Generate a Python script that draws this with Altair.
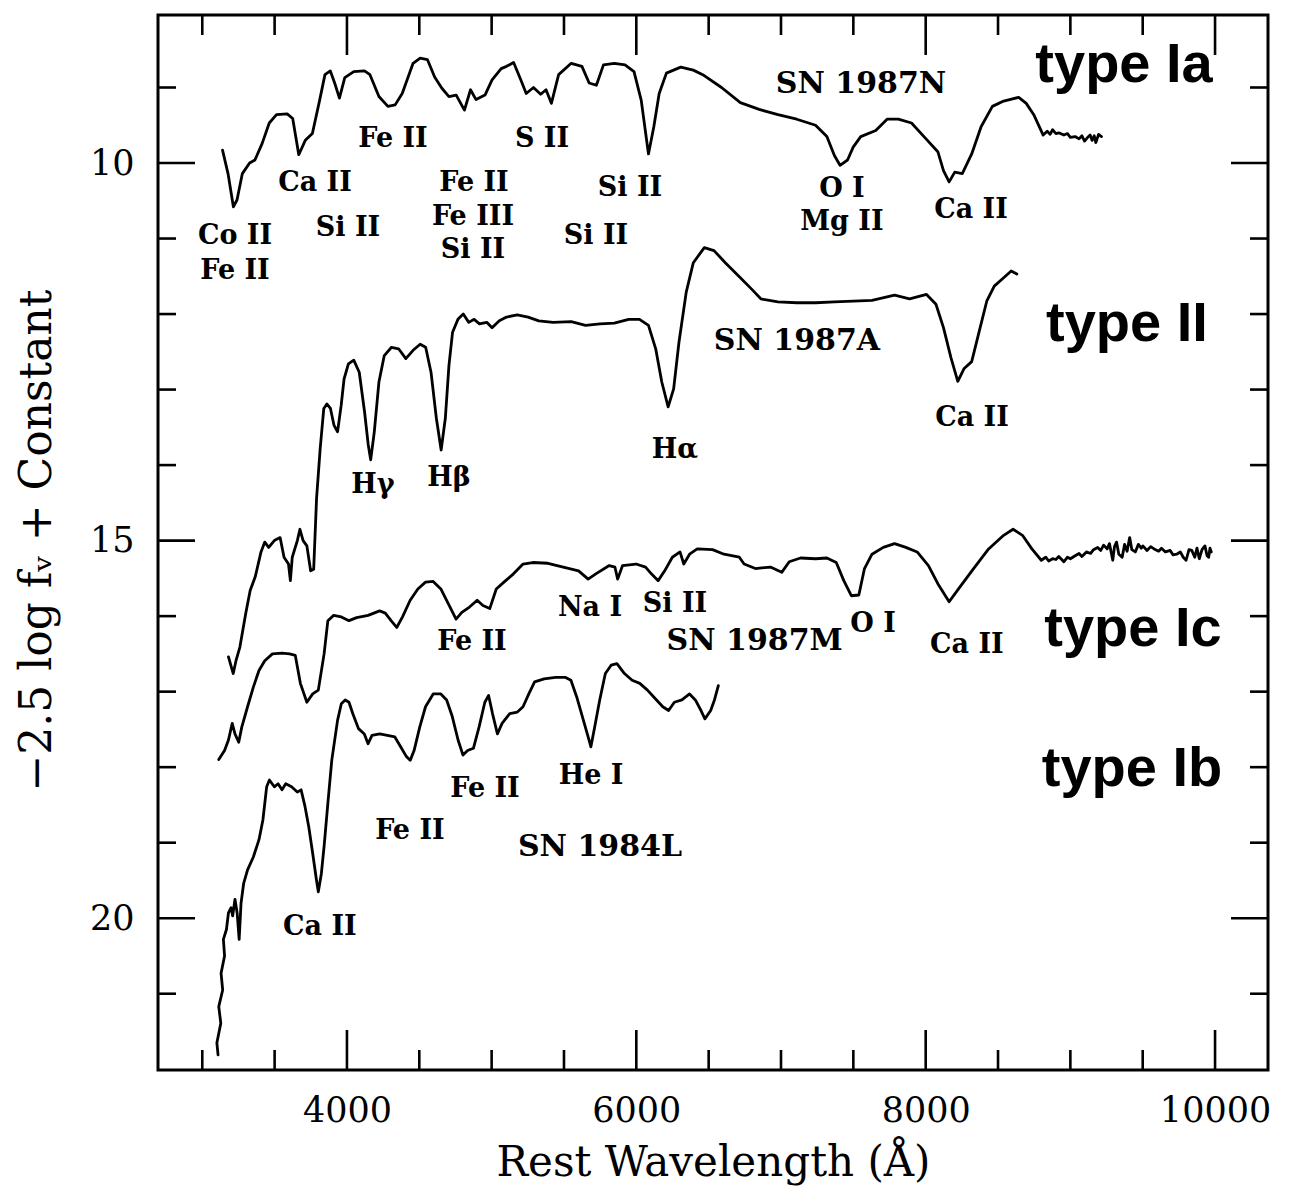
import altair as alt
import pandas as pd

# ---------------- data ----------------
# SN 1987N (type Ia)
sn1987n_wave = [3140, 3178, 3215, 3240, 3277, 3327, 3364, 3414, 3463, 3513,
                3587, 3625, 3667, 3712, 3761, 3811, 3848, 3885, 3915, 3948,
                3985, 4047, 4121, 4159, 4221, 4283, 4333, 4382, 4457, 4506,
                4556, 4606, 4656, 4705, 4755, 4812, 4854, 4892, 4954, 5003,
                5066, 5103, 5152, 5202, 5239, 5289, 5339, 5376, 5413, 5463,
                5550, 5624, 5674, 5724, 5773, 5848, 5922, 5984, 6034, 6084,
                6121, 6158, 6208, 6307, 6394, 6459, 6589, 6719, 6849, 6979,
                7109, 7239, 7317, 7369, 7408, 7460, 7499, 7551, 7655, 7733,
                7811, 7902, 7993, 8084, 8123, 8162, 8201, 8253, 8318, 8383,
                8461, 8539, 8643, 8695, 8747,
                8812, 8840, 8860, 8877, 8900, 8920, 8955, 8980, 9000, 9033,
                9060, 9080, 9098, 9120, 9137, 9150, 9165, 9176, 9195, 9215]
sn1987n_mag = [9.83, 10.14, 10.58, 10.49, 10.14, 10.00, 9.96, 9.74, 9.47, 9.36,
               9.35, 9.41, 9.89, 9.70, 9.61, 9.17, 8.83, 8.78, 8.94, 9.14,
               8.87, 8.79, 8.78, 8.83, 9.12, 9.25, 9.23, 9.08, 8.68, 8.61,
               8.63, 8.86, 9.01, 9.12, 9.10, 9.30, 9.03, 9.16, 9.10, 8.90,
               8.75, 8.72, 8.67, 8.90, 9.08, 9.00, 9.09, 9.03, 9.21, 8.83,
               8.68, 8.72, 8.94, 8.97, 8.70, 8.68, 8.70, 8.79, 9.17, 9.88,
               9.52, 9.08, 8.81, 8.73, 8.77, 8.83, 9.00, 9.20, 9.29, 9.36,
               9.42, 9.50, 9.65, 9.90, 10.03, 9.96, 9.79, 9.65, 9.57, 9.42,
               9.42, 9.47, 9.66, 9.85, 10.10, 10.25, 10.12, 10.14, 9.88, 9.52,
               9.25, 9.18, 9.13, 9.21, 9.36,
               9.63, 9.58, 9.62, 9.56, 9.61, 9.60, 9.63, 9.61, 9.66, 9.65,
               9.68, 9.64, 9.71, 9.66, 9.63, 9.70, 9.64, 9.73, 9.62, 9.65]

# SN 1987A (type II)
sn1987a_wave = [3181, 3214, 3233, 3260, 3300, 3331, 3366, 3406, 3432, 3459,
                3498, 3538, 3565, 3596, 3609, 3622, 3657, 3675, 3697, 3723,
                3749, 3770, 3790, 3815, 3840, 3861, 3886, 3910, 3935, 3960,
                3980, 4010, 4047, 4085, 4122, 4147, 4164, 4189, 4221, 4258,
                4308, 4357, 4407, 4457, 4506, 4544, 4581, 4618, 4651, 4680,
                4705, 4730, 4767, 4804, 4842, 4879, 4916, 4966, 5003, 5053,
                5103, 5177, 5252, 5326, 5425, 5550, 5649, 5749, 5848, 5947,
                6022, 6084, 6134, 6176, 6220, 6258, 6295, 6345, 6394, 6470,
                6537, 6615, 6719, 6797, 6862, 6979, 7109, 7239, 7369, 7499,
                7629, 7785, 7889, 8006, 8071, 8123, 8175, 8222, 8266, 8318,
                8370, 8422, 8474, 8539, 8591, 8630]
sn1987a_mag = [16.54, 16.76, 16.59, 16.41, 15.97, 15.66, 15.48, 15.15, 15.02, 15.09,
               15.00, 14.96, 15.22, 15.31, 15.53, 15.22, 15.00, 14.85, 15.00, 15.07,
               15.40, 15.38, 14.44, 13.78, 13.25, 13.19, 13.25, 13.47, 13.56, 13.21,
               12.86, 12.66, 12.61, 12.77, 13.30, 13.73, 13.93, 13.56, 12.90, 12.55,
               12.44, 12.46, 12.59, 12.48, 12.40, 12.44, 12.77, 13.38, 13.80, 13.38,
               12.68, 12.24, 12.07, 12.00, 12.11, 12.07, 12.13, 12.11, 12.18, 12.09,
               12.04, 12.01, 12.04, 12.09, 12.11, 12.10, 12.15, 12.13, 12.12, 12.07,
               12.07, 12.15, 12.46, 12.90, 13.23, 12.99, 12.37, 11.71, 11.32, 11.12,
               11.16, 11.32, 11.52, 11.67, 11.80, 11.84, 11.85, 11.85, 11.84, 11.83,
               11.82, 11.75, 11.80, 11.74, 11.87, 12.18, 12.58, 12.89, 12.72, 12.63,
               12.23, 11.83, 11.63, 11.52, 11.43, 11.47]

# SN 1987M (type Ic)
sn1987m_wave = [3114, 3154, 3181, 3207, 3226, 3252, 3273, 3313, 3353, 3392,
                3432, 3485, 3551, 3604, 3643, 3678, 3723, 3763, 3802, 3842,
                3868, 3908, 3961, 4014, 4067, 4146, 4226, 4265, 4305, 4344,
                4384, 4437, 4490, 4543, 4596, 4649, 4702, 4754, 4794, 4847,
                4900, 4940, 4987, 5032, 5085, 5151, 5217, 5284, 5389, 5495,
                5601, 5667, 5720, 5813, 5852, 5871, 5905, 5998, 6064, 6104,
                6151, 6196, 6249, 6302, 6328, 6368, 6421, 6527, 6606, 6712,
                6745, 6823, 6927, 7005, 7057, 7135, 7239, 7317, 7382, 7434,
                7486, 7538, 7577, 7629, 7707, 7785, 7863, 7941, 8019, 8084,
                8162, 8227, 8331, 8435, 8539, 8604, 8669, 8734,
                8799, 8830, 8850, 8877, 8900, 8920, 8955, 8980, 9000, 9033,
                9060, 9080, 9111, 9140, 9160, 9189, 9210, 9230, 9254, 9270,
                9293, 9305, 9319, 9335, 9358, 9375, 9392, 9410, 9425, 9449,
                9470, 9490, 9501, 9530, 9555, 9579, 9610, 9630, 9657, 9690,
                9710, 9735, 9760, 9780, 9800, 9820, 9839, 9860, 9875, 9891,
                9910, 9930, 9945, 9956, 9965, 9974]
sn1987m_mag = [17.90, 17.78, 17.64, 17.42, 17.56, 17.67, 17.47, 17.20, 16.94, 16.72,
               16.59, 16.50, 16.49, 16.50, 16.52, 16.89, 17.14, 17.03, 16.98, 16.50,
               16.06, 15.99, 16.01, 16.06, 16.02, 15.99, 15.93, 15.96, 16.06, 16.15,
               16.01, 15.79, 15.64, 15.55, 15.54, 15.64, 15.84, 16.04, 15.95, 15.88,
               15.79, 15.86, 15.90, 15.64, 15.55, 15.44, 15.31, 15.29, 15.30, 15.35,
               15.40, 15.51, 15.44, 15.33, 15.35, 15.51, 15.33, 15.31, 15.35, 15.44,
               15.53, 15.40, 15.22, 15.15, 15.31, 15.18, 15.11, 15.12, 15.18, 15.22,
               15.31, 15.37, 15.35, 15.42, 15.28, 15.23, 15.24, 15.23, 15.29, 15.53,
               15.73, 15.72, 15.37, 15.18, 15.09, 15.04, 15.09, 15.15, 15.33, 15.57,
               15.81, 15.64, 15.37, 15.11, 14.93, 14.85, 14.93, 15.11,
               15.26, 15.22, 15.27, 15.24, 15.25, 15.21, 15.28, 15.22, 15.24, 15.20,
               15.17, 15.21, 15.15, 15.17, 15.12, 15.09, 15.13, 15.06, 15.11, 15.04,
               15.26, 15.08, 15.02, 15.18, 15.22, 15.05, 15.14, 14.96, 15.12, 15.15,
               15.05, 15.10, 15.07, 15.13, 15.08, 15.11, 15.14, 15.10, 15.15, 15.13,
               15.19, 15.18, 15.15, 15.22, 15.26, 15.12, 15.13, 15.22, 15.10, 15.24,
               15.12, 15.07, 15.20, 15.22, 15.10, 15.15]

# SN 1984L (type Ib)
sn1984l_wave = [3109, 3101, 3128, 3114, 3141, 3130, 3154, 3146, 3167, 3181,
                3199, 3210, 3226, 3241, 3255, 3268, 3286, 3313, 3353, 3392,
                3419, 3445, 3464, 3498, 3524, 3551, 3577, 3617, 3657, 3683,
                3710, 3736, 3763, 3789, 3802, 3823, 3842, 3868, 3895, 3935,
                3961, 3988, 4014, 4040, 4080, 4120, 4146, 4173, 4226, 4279,
                4331, 4371, 4411, 4437, 4464, 4503, 4543, 4596, 4649, 4689,
                4728, 4768, 4802, 4834, 4874, 4913, 4953, 4979, 5006, 5040,
                5072, 5125, 5178, 5217, 5257, 5297, 5363, 5442, 5508, 5548,
                5588, 5627, 5667, 5686, 5712, 5747, 5786, 5826, 5866, 5918,
                5971, 6024, 6077, 6130, 6183, 6223, 6263, 6315, 6368, 6408,
                6447, 6474, 6514, 6540, 6567]
sn1984l_mag = [21.81, 21.65, 21.39, 21.17, 20.95, 20.73, 20.50, 20.28, 20.15, 19.93,
               19.86, 19.97, 19.75, 19.93, 20.28, 19.80, 19.54, 19.36, 19.19, 18.96,
               18.70, 18.26, 18.17, 18.26, 18.22, 18.30, 18.22, 18.26, 18.33, 18.30,
               18.52, 18.79, 19.14, 19.49, 19.65, 19.41, 19.05, 18.48, 17.91, 17.38,
               17.16, 17.11, 17.14, 17.29, 17.49, 17.56, 17.69, 17.58, 17.56, 17.58,
               17.60, 17.73, 17.86, 17.91, 17.78, 17.47, 17.20, 17.03, 17.03, 17.11,
               17.33, 17.64, 17.84, 17.78, 17.75, 17.47, 17.14, 17.05, 17.29, 17.56,
               17.42, 17.29, 17.27, 17.20, 17.03, 16.87, 16.83, 16.81, 16.81, 16.85,
               17.07, 17.33, 17.60, 17.73, 17.47, 17.11, 16.76, 16.65, 16.63, 16.76,
               16.85, 16.89, 16.98, 17.09, 17.20, 17.25, 17.14, 17.11, 17.03, 17.11,
               17.25, 17.36, 17.25, 17.11, 16.92]

# line identifications
line_label_text = ["Co II", "Fe II", "Ca II", "Si II", "Fe II", "Fe II", "Fe III",
                   "Si II", "S II", "Si II", "Si II", "O I", "Mg II", "Ca II",
                   "H\u03b3", "H\u03b2", "H\u03b1", "Ca II",
                   "Fe II", "Na I", "Si II", "O I", "Ca II",
                   "Fe II", "He I", "Fe II", "Ca II"]
line_label_wave = [3226, 3226, 3779, 4007, 4318, 4878, 4871,
                   4871, 5348, 5956, 5721, 7421, 7421, 8313,
                   4180, 4705, 6267, 8320,
                   4864, 5680, 6267, 7636, 8285,
                   4954, 5687, 4435, 3813]
line_label_mag = [10.97, 11.43, 10.26, 10.86, 9.68, 10.26, 10.72,
                  11.15, 9.68, 10.33, 10.97, 10.34, 10.78, 10.62,
                  14.26, 14.17, 13.80, 13.38,
                  16.34, 15.89, 15.84, 16.11, 16.38,
                  18.29, 18.12, 18.85, 20.12]

# supernova names
sn_label_text = ["SN 1987N", "SN 1987A", "SN 1987M", "SN 1984L"]
sn_label_wave = [7553, 7110, 6818, 5749]
sn_label_mag = [8.95, 12.36, 16.33, 19.06]

# spectral types
type_label_text = ["type Ia", "type II", "type Ic", "type Ib"]
type_label_wave = [9371, 9391, 9433, 9426]
type_label_mag = [8.70, 12.13, 16.17, 18.02]

# tick values
x_major_ticks = [4000, 6000, 8000, 10000]
x_minor_ticks = [3000, 3500, 4500, 5000, 5500, 6500, 7000, 7500, 8500, 9000, 9500]
y_major_ticks = [10, 15, 20]
y_minor_ticks = [9, 11, 12, 13, 14, 16, 17, 18, 19, 21]

# ---------------- build tables ----------------
spectra = [("SN 1987N", sn1987n_wave, sn1987n_mag),
           ("SN 1987A", sn1987a_wave, sn1987a_mag),
           ("SN 1987M", sn1987m_wave, sn1987m_mag),
           ("SN 1984L", sn1984l_wave, sn1984l_mag)]
rows = []
for name, wv, mg in spectra:
    for i, (w, m) in enumerate(zip(wv, mg)):
        rows.append({"spectrum": name, "idx": i, "wave": w, "mag": m})
spec_df = pd.DataFrame(rows)

line_df = pd.DataFrame({"wave": line_label_wave, "mag": line_label_mag, "label": line_label_text})
sn_df = pd.DataFrame({"wave": sn_label_wave, "mag": sn_label_mag, "label": sn_label_text})
type_df = pd.DataFrame({"wave": type_label_wave, "mag": type_label_mag, "label": type_label_text})
xmaj_df = pd.DataFrame({"wave": x_major_ticks})
xmin_df = pd.DataFrame({"wave": x_minor_ticks})
ymaj_df = pd.DataFrame({"mag": y_major_ticks})
ymin_df = pd.DataFrame({"mag": y_minor_ticks})

# ---------------- chart ----------------
W, H = 1110, 1055
SERIF = "DejaVu Serif"

xs = alt.Scale(domain=[2694, 10366], nice=False, zero=False)
ys = alt.Scale(domain=[8.04, 22.01], reverse=True, nice=False, zero=False)

x_axis = alt.Axis(values=x_major_ticks, format="d", ticks=False, tickSize=0,
                  domain=False, grid=False, labelFont=SERIF, labelFontSize=35,
                  labelColor="black", labelPadding=23, labelFlush=False,
                  labelOverlap=False, titleFont=SERIF, titleFontSize=42,
                  titleFontWeight="normal", titleColor="black", titlePadding=14)
y_axis = alt.Axis(values=y_major_ticks, ticks=False, tickSize=0, domain=False,
                  grid=False, labelFont=SERIF, labelFontSize=35, labelColor="black",
                  labelPadding=24, labelOverlap=False, titleFont=SERIF,
                  titleFontSize=44, titleFontWeight="normal", titleColor="black",
                  titleAngle=270, titleX=-121, titleY=525, titleAlign="center",
                  titleBaseline="middle")

X_TITLE = "Rest Wavelength (\u00c5)"
Y_TITLE = "\u22122.5 log f\u1d65 + Constant"


def xenc():
    return alt.X("wave:Q", scale=xs, axis=x_axis, title=X_TITLE)


def yenc():
    return alt.Y("mag:Q", scale=ys, axis=y_axis, title=Y_TITLE)


lines = alt.Chart(spec_df).mark_line(
    color="black", strokeWidth=2.8, strokeJoin="round", strokeCap="round"
).encode(x=xenc(), y=yenc(), detail="spectrum:N", order="idx:Q")

rule_style = dict(color="black", strokeWidth=2.6)
xmaj_bot = alt.Chart(xmaj_df).mark_rule(**rule_style).encode(
    x=xenc(), y=alt.value(H), y2=alt.value(H - 40))
xmaj_top = alt.Chart(xmaj_df).mark_rule(**rule_style).encode(
    x=xenc(), y=alt.value(0), y2=alt.value(40))
xmin_bot = alt.Chart(xmin_df).mark_rule(**rule_style).encode(
    x=xenc(), y=alt.value(H), y2=alt.value(H - 20))
xmin_top = alt.Chart(xmin_df).mark_rule(**rule_style).encode(
    x=xenc(), y=alt.value(0), y2=alt.value(20))
ymaj_left = alt.Chart(ymaj_df).mark_rule(**rule_style).encode(
    y=yenc(), x=alt.value(0), x2=alt.value(37))
ymaj_right = alt.Chart(ymaj_df).mark_rule(**rule_style).encode(
    y=yenc(), x=alt.value(W), x2=alt.value(W - 37))
ymin_left = alt.Chart(ymin_df).mark_rule(**rule_style).encode(
    y=yenc(), x=alt.value(0), x2=alt.value(18))
ymin_right = alt.Chart(ymin_df).mark_rule(**rule_style).encode(
    y=yenc(), x=alt.value(W), x2=alt.value(W - 18))

line_text = alt.Chart(line_df).mark_text(
    font=SERIF, fontWeight="bold", fontSize=27, color="black",
    align="center", baseline="middle"
).encode(x=xenc(), y=yenc(), text="label:N")

sn_text = alt.Chart(sn_df).mark_text(
    font=SERIF, fontWeight="bold", fontSize=30, color="black",
    align="center", baseline="middle"
).encode(x=xenc(), y=yenc(), text="label:N")

type_text = alt.Chart(type_df).mark_text(
    font="Liberation Sans", fontWeight="bold", fontSize=56, color="black",
    align="center", baseline="middle"
).encode(x=xenc(), y=yenc(), text="label:N")

chart = alt.layer(
    lines, xmaj_bot, xmaj_top, xmin_bot, xmin_top,
    ymaj_left, ymaj_right, ymin_left, ymin_right,
    line_text, sn_text, type_text
).properties(
    width=W, height=H,
    autosize=alt.AutoSizeParams(type="none"),
    padding={"left": 150, "top": 7, "right": 10, "bottom": 116},
    background="white",
).configure_view(stroke="black", strokeWidth=3)

chart.save("out.html", embed_options={"renderer": "svg", "actions": False})
